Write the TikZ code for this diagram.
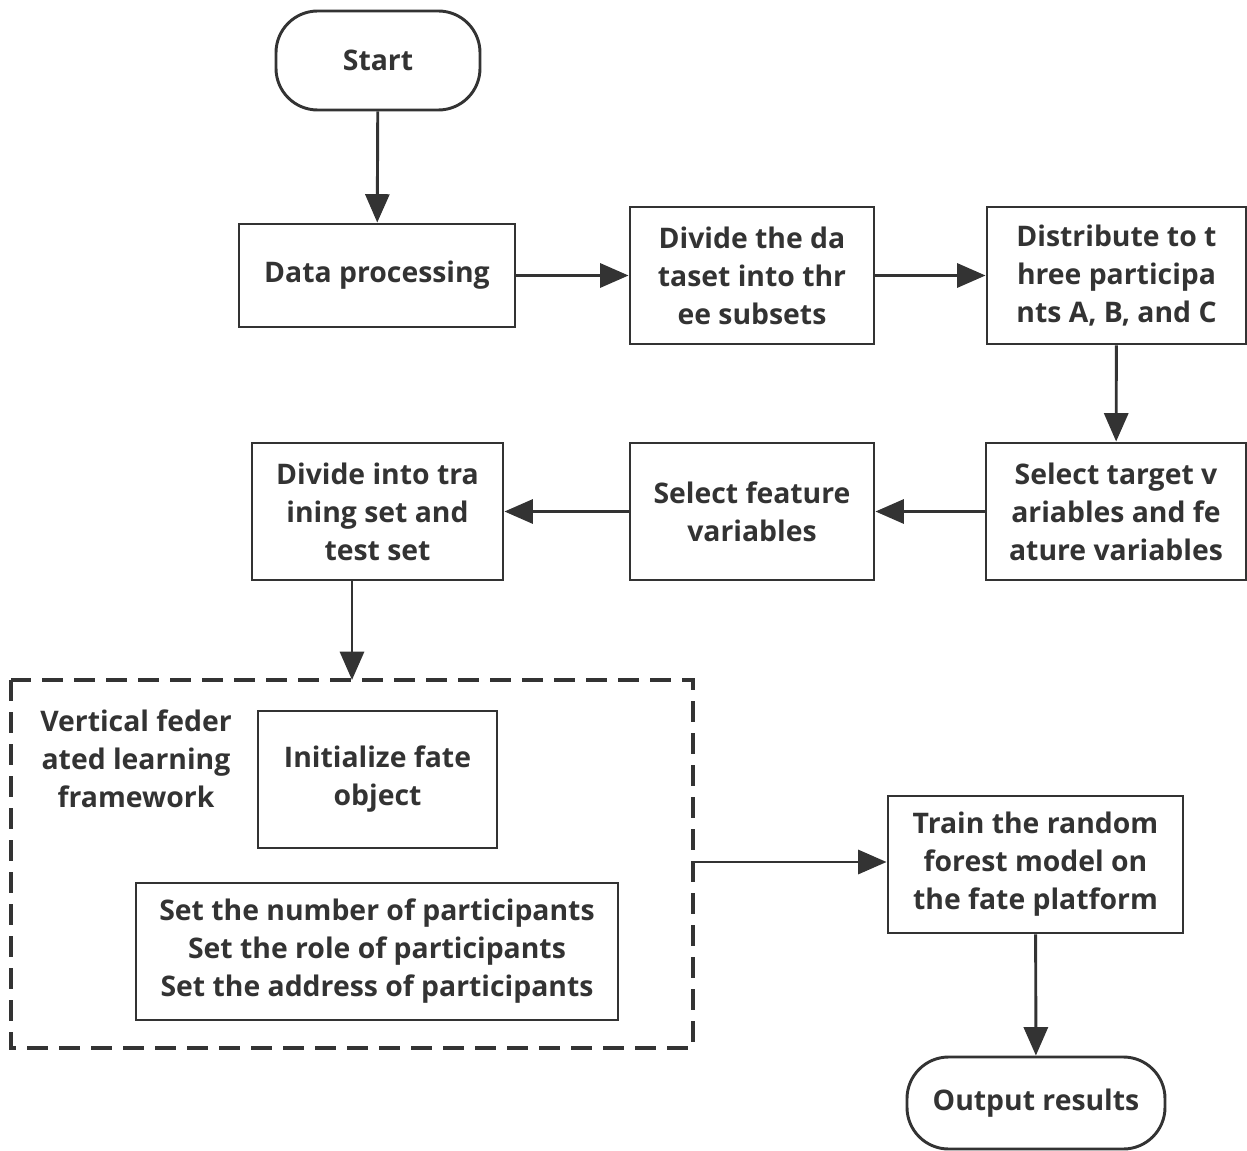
\documentclass[tikz,border=0pt]{standalone}
\usepackage{fontspec}
\setmainfont{Open Sans}
\usetikzlibrary{arrows.meta}
\definecolor{ink}{HTML}{333333}
\tikzset{
  px/.style={x=0.03cm,y=-0.03cm},
  box/.style={draw=ink, line width=2.5pt, align=center, text=ink, font=\fontsize{24.2}{32.4}\selectfont\bfseries, inner sep=0pt},
  term/.style={box, rounded corners=1.25cm},
  lbl/.style={align=center, text=ink, font=\fontsize{24.2}{32.4}\selectfont\bfseries, inner sep=0pt},
  arr/.style={draw=ink, line width=2.5pt, -{Triangle[length=0.85cm,width=0.72cm]}},
  dashbox/.style={draw=ink, line width=2.6pt, dash pattern=on 0.62cm off 0.34cm},
}
\begin{document}
\begin{tikzpicture}[px]
\useasboundingbox (0,0) rectangle (1247,1151);
\node[term, minimum width={204*0.03cm}, minimum height={99*0.03cm}] (start) at (378,60.5) {Start};
\node[box, minimum width={276*0.03cm}, minimum height={103*0.03cm}] (data) at (377,275.5) {Data processing};
\node[box, minimum width={244*0.03cm}, minimum height={137*0.03cm}] (divide) at (752,275.5) {Divide the da\\taset into thr\\ee subsets};
\node[box, minimum width={259*0.03cm}, minimum height={137*0.03cm}] (distr) at (1116.5,275.5) {Distribute to t\\hree participa\\nts A, B, and C};
\node[box, minimum width={260*0.03cm}, minimum height={137*0.03cm}] (target) at (1116,511.5) {Select target v\\ariables and fe\\ature variables};
\node[box, minimum width={244*0.03cm}, minimum height={137*0.03cm}] (feat) at (752,511.5) {Select feature\\variables};
\node[box, minimum width={251*0.03cm}, minimum height={137*0.03cm}] (train) at (377.5,511.5) {Divide into tra\\ining set and\\test set};
\draw[dashbox] (11,680) rectangle (693,1048);
\coordinate (dtop) at (352,680);
\coordinate (dright) at (693,862);
\node[lbl] (vfl) at (136,759) {Vertical feder\\ated learning\\framework};
\node[box, minimum width={239*0.03cm}, minimum height={137*0.03cm}] (init) at (377.5,779.5) {Initialize fate\\object};
\node[box, minimum width={482*0.03cm}, minimum height={137*0.03cm}] (set) at (377,951.5) {Set the number of participants\\Set the role of participants\\Set the address of participants};
\node[box, minimum width={295*0.03cm}, minimum height={137*0.03cm}] (rf) at (1035.5,864.5) {Train the random\\forest model on\\the fate platform};
\node[term, minimum width={258*0.03cm}, minimum height={92*0.03cm}] (out) at (1036,1103) {Output results};
\draw[arr] (start) -- (data);
\draw[arr] (data) -- (divide);
\draw[arr] (divide) -- (distr);
\draw[arr] (distr) -- (target);
\draw[arr] (target) -- (feat);
\draw[arr] (feat) -- (train);
\draw[arr] (train.south -| dtop) -- (dtop);
\draw[arr] (dright) -- (rf.west |- dright);
\draw[arr] (rf) -- (out);
\end{tikzpicture}
\end{document}
